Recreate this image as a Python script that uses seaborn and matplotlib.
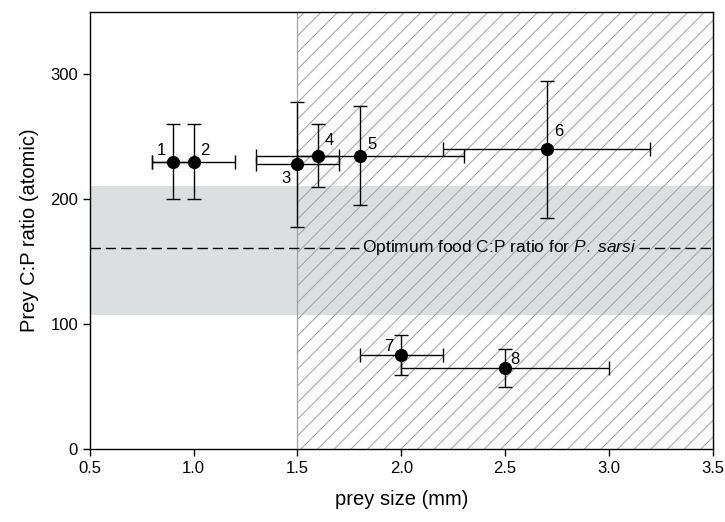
import matplotlib
matplotlib.use("Agg")
import matplotlib.pyplot as plt
import seaborn as sns
import numpy as np
import pandas as pd

# ---- data ----
labels = ["1", "2", "3", "4", "5", "6", "7", "8"]
prey_size = [0.9, 1.0, 1.5, 1.6, 1.8, 2.7, 2.0, 2.5]
size_err = [0.1, 0.2, 0.2, 0.1, 0.5, 0.5, 0.2, 0.5]
cp_ratio = [230, 230, 228, 235, 235, 240, 75, 65]
cp_err = [30, 30, 50, 25, 40, 55, 16, 15]
label_offsets = [(-8, 8), (8, 8), (-8, -10), (8, 11), (9, 8), (9, 13), (-9, 6), (7, 6)]

optimum_cp = 161
optimum_band = (107, 211)
size_threshold = 1.5
xticks = [0.5, 1.0, 1.5, 2.0, 2.5, 3.0, 3.5]
yticks = [0, 100, 200, 300]

df = pd.DataFrame({"size": prey_size, "cp": cp_ratio,
                   "xerr": size_err, "yerr": cp_err, "label": labels})

sns.set_theme(style="white")
plt.rcParams["font.family"] = ["Liberation Sans", "DejaVu Sans"]
plt.rcParams["mathtext.fontset"] = "custom"
plt.rcParams["mathtext.rm"] = "Liberation Sans"
plt.rcParams["mathtext.it"] = "Liberation Sans:italic"
plt.rcParams["hatch.color"] = "#a0a0a0"
plt.rcParams["hatch.linewidth"] = 0.7
plt.rcParams["text.color"] = "black"
plt.rcParams["axes.labelcolor"] = "black"
plt.rcParams["xtick.color"] = "black"
plt.rcParams["ytick.color"] = "black"

fig = plt.figure(figsize=(7.25, 5.22), dpi=100)
ax = fig.add_axes([0.124, 0.140, 0.859, 0.837])

xmin, xmax = 0.5, 3.5
ymin, ymax = 0, 350

# grey band
ax.axhspan(optimum_band[0], optimum_band[1], color="#dcdfdf", lw=0, zorder=0)
# hatched region
ax.axvspan(size_threshold, xmax, facecolor="none", edgecolor="#a0a0a0",
           hatch="//", lw=0, zorder=1)
ax.axvline(size_threshold, color="#a0a0a0", lw=0.9, zorder=1)

# error bars
ax.errorbar(df["size"], df["cp"], xerr=df["xerr"], yerr=df["yerr"], fmt="none",
            ecolor="black", elinewidth=1.0, capsize=5, capthick=1.0, zorder=3)
sns.scatterplot(data=df, x="size", y="cp", ax=ax, color="black", s=90,
                edgecolor="black", linewidth=0, zorder=4, legend=False)

for lab, x, y, off in zip(labels, prey_size, cp_ratio, label_offsets):
    ax.annotate(lab, (x, y), xytext=off, textcoords="offset points",
                ha="center", va="center", fontsize=12, zorder=5)

ax.set_xlim(xmin, xmax)
ax.set_ylim(ymin, ymax)

# optimum text and dashed line broken around it
txt = ax.text(2.47, optimum_cp, r"Optimum food C:P ratio for $\it{P.\ sarsi}$",
              ha="center", va="center", fontsize=12.5, zorder=5)
fig.canvas.draw()
bb = txt.get_window_extent(renderer=fig.canvas.get_renderer())
inv = ax.transData.inverted()
x0 = inv.transform((bb.x0 - 3, 0))[0]
x1 = inv.transform((bb.x1 + 3, 0))[0]
ax.plot([xmin, x0], [optimum_cp, optimum_cp], ls=(0, (7.5, 3.5)), color="black", lw=1, zorder=2)
ax.plot([x1, xmax], [optimum_cp, optimum_cp], ls=(0, (7.5, 3.5)), color="black", lw=1, zorder=2)

ax.set_xticks(xticks)
ax.set_xticklabels([f"{t:.1f}" for t in xticks])
ax.set_yticks(yticks)
ax.tick_params(axis="both", which="both", direction="out", length=5, width=1,
               labelsize=12, color="black", labelcolor="black",
               bottom=True, left=True, top=False, right=False)
ax.set_xlabel("prey size (mm)", fontsize=14.5, labelpad=10)
ax.set_ylabel("Prey C:P ratio (atomic)", fontsize=14.5, labelpad=8)

for s in ax.spines.values():
    s.set_color("black")
    s.set_linewidth(1.0)

fig.savefig("out.png", dpi=100)
